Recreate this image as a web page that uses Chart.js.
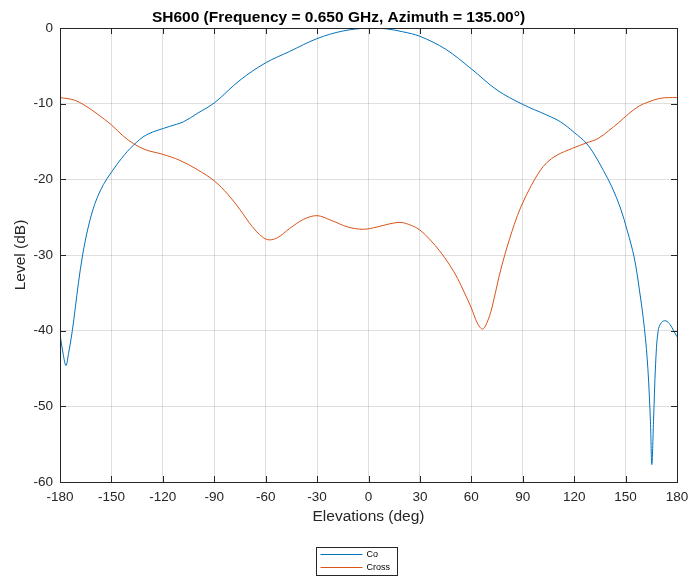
<!DOCTYPE html>
<html>
<head>
<meta charset="utf-8">
<script src="https://cdn.jsdelivr.net/npm/chart.js@4"></script>
<style>
  html, body { margin: 0; padding: 0; background: #fff; }
  #wrap { width: 689px; height: 577px; }
</style>
</head>
<body>
<div id="wrap"><canvas id="chart" width="689" height="577"></canvas></div>
<script>
const chartTitle = "SH600 (Frequency = 0.650 GHz, Azimuth = 135.00\u00b0)";
const xTicks = [-180, -150, -120, -90, -60, -30, 0, 30, 60, 90, 120, 150, 180];
const yTicks = [-60, -50, -40, -30, -20, -10, 0];

// Co polarisation
const coElev = [-180, -178, -176.5, -175, -172.8, -169.3, -166.8, -163.5, -159.6, -154.7, -149.8, -144, -137.2, -129.4, -116,
  -108, -100, -90, -75, -60, -46, -30, -15, 0, 10, 20, 30, 45, 60, 75, 90, 104, 112, 120, 127, 132, 137,
  142, 147, 151, 155, 158, 161, 163, 164.5, 165.3, 166.3, 167.5, 169, 171, 173.5, 176, 178, 180];
const coLevel = [-40.5, -43.3, -44.6, -43, -40, -33.8, -30, -26.3, -23.2, -20.7, -19, -17.2, -15.5, -14.1, -13,
  -12.4, -11.3, -9.9, -6.9, -4.6, -3.1, -1.4, -0.4, 0, -0.1, -0.5, -1.1, -2.8, -5.4, -8.2, -10.1, -11.5, -12.4, -13.8, -15.2, -16.8, -18.8,
  -21, -23.8, -26.8, -30.3, -34.5, -39.7, -45, -52, -57.7, -52, -44.5, -40, -38.9, -38.7, -39.2, -40, -40.8];

// Cross polarisation
const crossElev = [-180, -172, -165, -158, -150, -143, -137, -130, -120, -110, -100, -90, -82, -75, -68, -62, -58,
  -53, -46, -38, -30, -22, -12, -3, 5, 12, 19, 25, 30, 36, 42, 47, 52, 56, 60, 63.5, 66.5, 69, 72, 76, 80,
  85, 89, 95, 100, 104, 110, 119, 127, 134, 140, 146, 152, 158, 163, 170, 175, 180];
const crossLevel = [-9.2, -9.5, -10.3, -11.4, -12.8, -14.3, -15.3, -16.1, -16.7, -17.5, -18.7, -20.2, -22, -24, -26.2, -27.6, -28.0,
  -27.7, -26.5, -25.3, -24.8, -25.4, -26.3, -26.6, -26.3, -25.9, -25.7, -26.1, -26.7, -28, -29.6, -31.2, -33.1, -35, -37, -39, -39.8, -39, -37, -33, -29.6,
  -26, -23.6, -20.8, -18.9, -17.8, -16.8, -15.9, -15.2, -14.6, -13.6, -12.5, -11.3, -10.3, -9.8, -9.3, -9.2, -9.2];

const axisColor = "#262626";
const font = "'Liberation Sans', Arial, Helvetica, sans-serif";

function pts(xs, ys) {
  return xs.map((x, i) => ({ x: x, y: ys[i] }));
}

// box around the plot with inward ticks on all four sides
const boxPlugin = {
  id: "box",
  afterDraw(chart) {
    const ctx = chart.ctx;
    const a = chart.chartArea;
    const xs = chart.scales.x, ys = chart.scales.y;
    ctx.save();
    ctx.strokeStyle = axisColor;
    ctx.lineWidth = 1;
    ctx.strokeRect(Math.round(a.left) + 0.5, Math.round(a.top) + 0.5,
      Math.round(a.right - a.left), Math.round(a.bottom - a.top));
    ctx.beginPath();
    xTicks.forEach(v => {
      const px = Math.round(xs.getPixelForValue(v)) + 0.5;
      ctx.moveTo(px, a.bottom); ctx.lineTo(px, a.bottom - 6);
      ctx.moveTo(px, a.top); ctx.lineTo(px, a.top + 6);
    });
    yTicks.forEach(v => {
      const py = Math.round(ys.getPixelForValue(v)) + 0.5;
      ctx.moveTo(a.left, py); ctx.lineTo(a.left + 6, py);
      ctx.moveTo(a.right, py); ctx.lineTo(a.right - 6, py);
    });
    ctx.stroke();
    ctx.restore();
  }
};

// small boxed legend under the axes
const legendPlugin = {
  id: "boxLegend",
  afterDraw(chart) {
    const ctx = chart.ctx;
    const x0 = 316.5, y0 = 547.5, w = 81, h = 28;
    ctx.save();
    ctx.fillStyle = "#fff";
    ctx.fillRect(x0, y0, w, h);
    ctx.strokeStyle = axisColor;
    ctx.lineWidth = 1;
    ctx.strokeRect(x0, y0, w, h);
    ctx.font = "9px " + font;
    ctx.textBaseline = "middle";
    chart.data.datasets.forEach((ds, i) => {
      const y = y0 + 7 + i * 13;
      ctx.strokeStyle = ds.borderColor;
      ctx.beginPath();
      ctx.moveTo(x0 + 4, y); ctx.lineTo(x0 + 46, y);
      ctx.stroke();
      ctx.fillStyle = "#000";
      ctx.fillText(ds.label, x0 + 50, y + 0.5);
    });
    ctx.restore();
  }
};

new Chart(document.getElementById("chart"), {
  type: "line",
  data: {
    datasets: [
      {
        label: "Co",
        data: pts(coElev, coLevel),
        borderColor: "#0072BD",
        borderWidth: 1,
        pointRadius: 0,
        tension: 0.35
      },
      {
        label: "Cross",
        data: pts(crossElev, crossLevel),
        borderColor: "#D95319",
        borderWidth: 1,
        pointRadius: 0,
        tension: 0.35
      }
    ]
  },
  options: {
    responsive: false,
    animation: false,
    layout: { padding: { left: 0, right: 12, top: 0, bottom: 47 } },
    plugins: {
      legend: { display: false },
      tooltip: { enabled: false },
      title: {
        display: true,
        text: chartTitle,
        color: "#000",
        font: { family: font, size: 15.5, weight: "bold" },
        padding: { top: 8, bottom: 1.4 }
      }
    },
    scales: {
      x: {
        type: "linear",
        min: -180,
        max: 180,
        afterBuildTicks: s => { s.ticks = xTicks.map(v => ({ value: v })); },
        afterFit: s => { s.height = 48; s.paddingLeft = 0; s.paddingRight = 0; },
        grid: { color: "rgba(38,38,38,0.15)", drawTicks: false },
        border: { display: false },
        ticks: { color: axisColor, font: { family: font, size: 13.5 }, padding: 7, maxRotation: 0 },
        title: {
          display: true,
          text: "Elevations (deg)",
          color: axisColor,
          font: { family: font, size: 15.5 },
          padding: { top: 0, bottom: 3.7 }
        }
      },
      y: {
        min: -60,
        max: 0,
        afterBuildTicks: s => { s.ticks = yTicks.map(v => ({ value: v })); },
        afterFit: s => { s.width = 60; s.paddingTop = 0; s.paddingBottom = 0; },
        grid: { color: "rgba(38,38,38,0.15)", drawTicks: false },
        border: { display: false },
        ticks: { color: axisColor, font: { family: font, size: 13.5 }, padding: 7 },
        title: {
          display: true,
          text: "Level (dB)",
          color: axisColor,
          font: { family: font, size: 15.5 },
          padding: { top: 11, bottom: 0 }
        }
      }
    }
  },
  plugins: [boxPlugin, legendPlugin]
});
</script>
</body>
</html>
